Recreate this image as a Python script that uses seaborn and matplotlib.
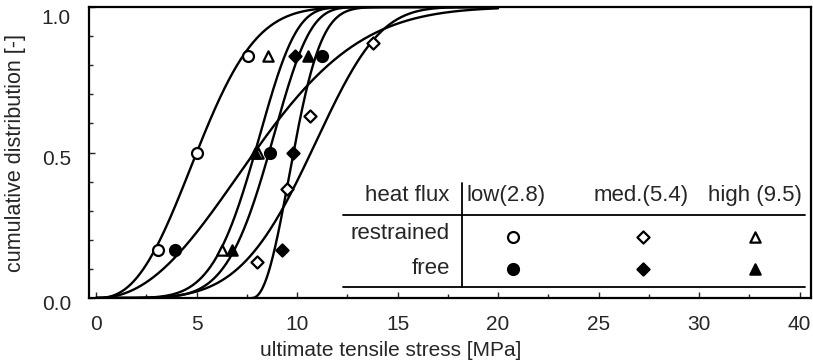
import numpy as np
import pandas as pd
import matplotlib
matplotlib.use("Agg")
import matplotlib.pyplot as plt
import matplotlib.transforms as mtransforms
import seaborn as sns

# measured points, stress in MPa
low_restrained_x = [3.10, 5.01, 7.58]
low_free_x = [3.93, 8.66, 11.23]
med_restrained_x = [8.00, 9.49, 10.65, 13.77]
med_free_x = [9.24, 9.82, 9.90]
high_restrained_x = [6.25, 8.07, 8.57]
high_free_x = [6.75, 7.91, 10.56]
rank3 = [1 / 6, 1 / 2, 5 / 6]
rank4 = [1 / 8, 3 / 8, 5 / 8, 7 / 8]

# fitted Weibull curves
curve_names = ["low restrained", "low free", "med restrained",
               "med free", "high restrained", "high free"]
weib_shape = [2.5, 2.2, 4.5, 2.2, 5.5, 6.0]
weib_scale = [5.8, 9.3, 11.6, 2.45, 8.45, 9.15]
weib_loc = [0.0, 0.0, 0.0, 7.75, 0.0, 0.0]
curve_end = 20.0

x_ticks = [0, 5, 10, 15, 20, 25, 30, 35]
x_ticklabels = ["0", "5", "10", "15", "20", "25", "30", "40"]
y_ticks = [0.0, 0.5, 1.0]
y_ticklabels = ["0.0", "0.5", "1.0"]

table_cols = ["low(2.8)", "med.(5.4)", "high (9.5)"]
table_rows = ["restrained", "free"]

sns.set_style("ticks")
plt.rcParams["font.family"] = ["Liberation Sans", "DejaVu Sans"]
plt.rcParams["font.size"] = 15

fig = plt.figure(figsize=(8.13, 3.63), dpi=100)
ax = fig.add_axes([89 / 813, 1 - 298 / 363, 722 / 813, 291 / 363])

# curves
for shape, scale, loc in zip(weib_shape, weib_scale, weib_loc):
    xs = np.linspace(loc, curve_end, 400)
    cdf = 1 - np.exp(-((xs - loc) / scale) ** shape)
    sns.lineplot(x=xs, y=cdf, color="black", lw=1.7, sort=False,
                 estimator=None, ax=ax, zorder=2)

# points
pts = [
    (low_restrained_x, rank3, "o", "white", 62),
    (low_free_x, rank3, "o", "black", 62),
    (med_restrained_x, rank4, "D", "white", 38),
    (med_free_x, rank3, "D", "black", 38),
    (high_restrained_x, rank3, "^", "white", 55),
    (high_free_x, rank3, "^", "black", 55),
]
for xv, yv, mk, fc, sz in pts:
    sns.scatterplot(x=xv, y=yv, marker=mk, s=sz, color=fc,
                    edgecolor="black", linewidth=1.6, ax=ax, zorder=3)

# legend table drawn inside the axes
ax.plot([12.3, 35.25], [0.285, 0.285], color="black", lw=1.3)
ax.plot([12.3, 35.25], [0.038, 0.038], color="black", lw=1.3)
ax.plot([18.2, 18.2], [0.395, 0.038], color="black", lw=1.3)
ax.text(17.6, 0.352, "heat flux", ha="right", va="center", fontsize=16)
for lbl, cx in zip(table_cols, [20.4, 27.1, 32.8]):
    ax.text(cx, 0.352, lbl, ha="center", va="center", fontsize=16)
for lbl, cy in zip(table_rows, [0.221, 0.103]):
    ax.text(17.6, cy, lbl, ha="right", va="center", fontsize=16)
col_x = [20.75, 27.2, 32.8]
for (xv, yv, mk, fc, sz), i in zip(pts, [0, 0, 1, 1, 2, 2]):
    row_y = 0.208 if fc == "white" else 0.10
    ax.scatter([col_x[i]], [row_y], marker=mk, s=sz, facecolor=fc,
               edgecolor="black", linewidth=1.6, zorder=3)

ax.set_xlim(-0.35, 35.57)
ax.set_ylim(0, 1.0)
ax.set_xticks(x_ticks)
ax.set_xticklabels(x_ticklabels)
ax.set_yticks(y_ticks)
ax.set_yticklabels(y_ticklabels)
ax.set_xticks(np.arange(0, 35.1, 2.5), minor=True)
ax.set_yticks(np.arange(0, 1.01, 0.1), minor=True)
ax.tick_params(which="both", direction="in", width=1.0)
ax.tick_params(axis="x", which="major", length=4, pad=12)
ax.tick_params(axis="y", which="major", length=4, pad=13)
ax.tick_params(which="minor", length=3)
for sp in ax.spines.values():
    sp.set_linewidth(1.6)
    sp.set_color("black")

# the scanned y labels sit a little below their ticks
for lab, dy in zip(ax.get_yticklabels(), [4, 5, 10]):
    shift = mtransforms.ScaledTranslation(0, -dy / 100, fig.dpi_scale_trans)
    lab.set_transform(lab.get_transform() + shift)

ax.set_xlabel("ultimate tensile stress [MPa]", fontsize=15)
ax.xaxis.set_label_coords(0.418, -0.148)
ax.set_ylabel("cumulative distribution [-]", fontsize=15.5)
ax.yaxis.set_label_coords(-0.087, 0.5)

fig.savefig("out.png", dpi=100)
